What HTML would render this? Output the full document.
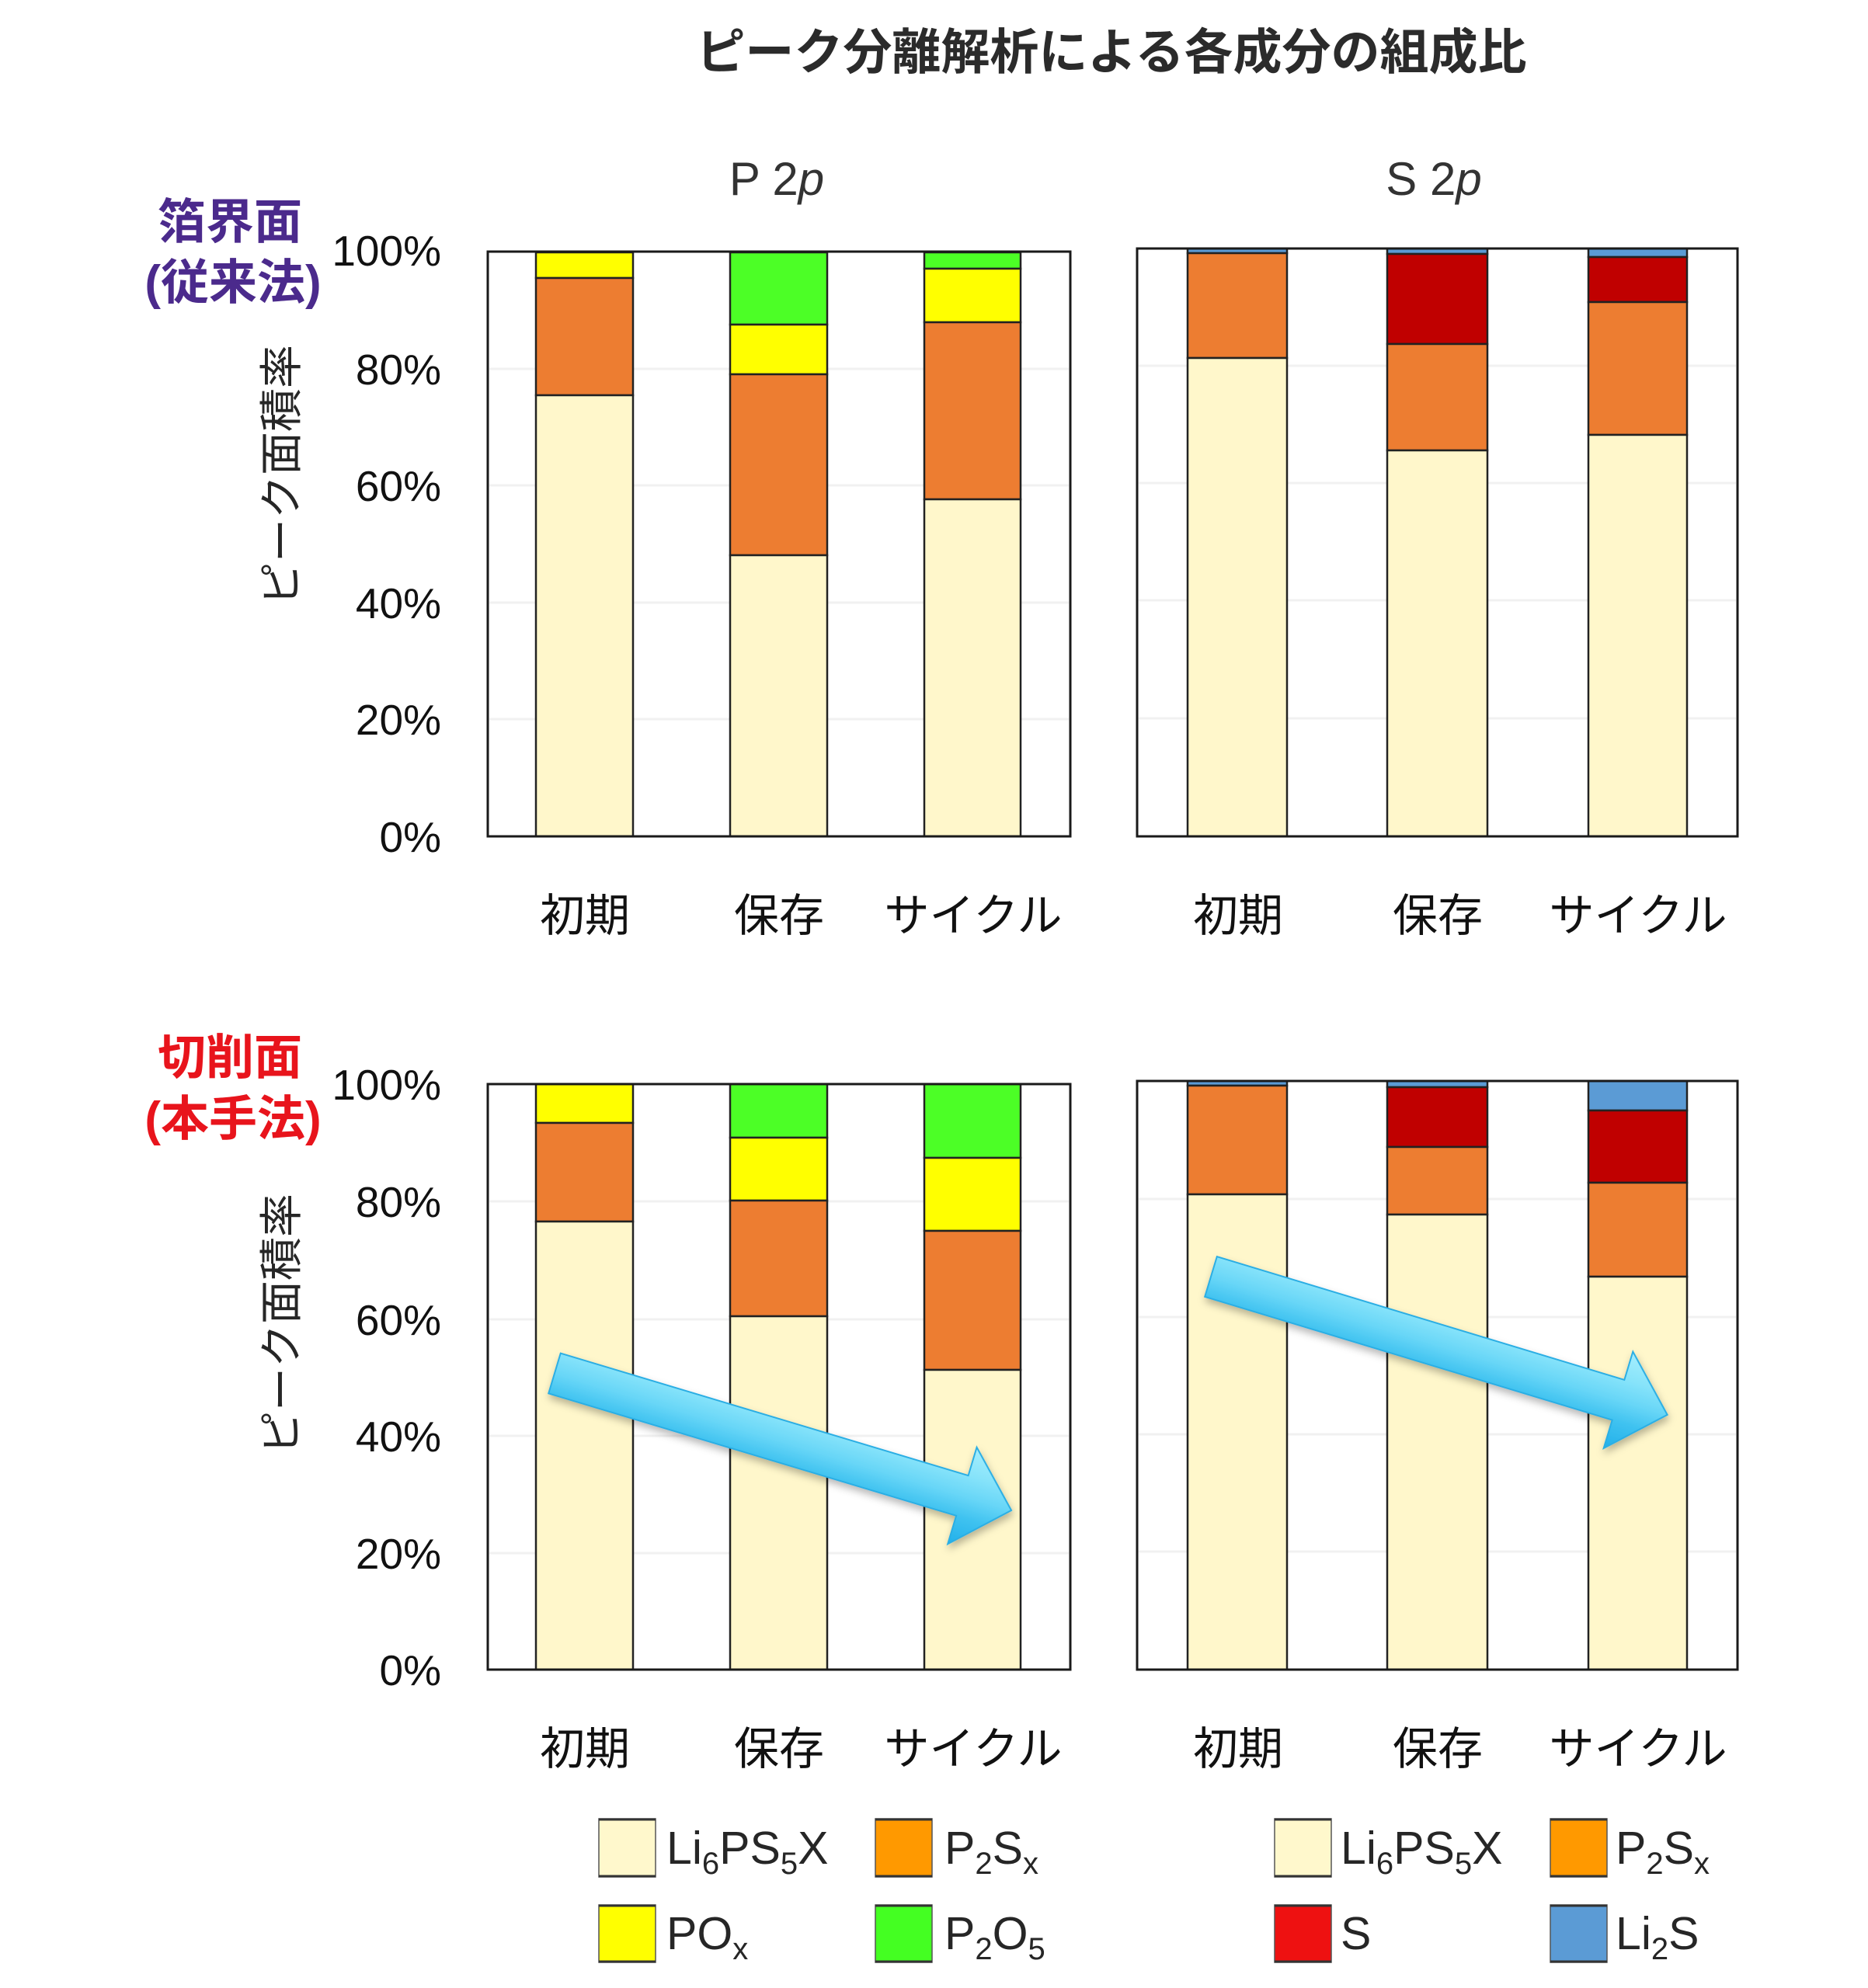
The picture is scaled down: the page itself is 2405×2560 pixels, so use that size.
<!DOCTYPE html>
<html>
<head>
<meta charset="utf-8">
<style>
html,body{margin:0;padding:0;background:#fff;}
svg{display:block;}
text{font-family:"Liberation Sans","Noto Sans CJK JP",sans-serif;}
</style>
</head>
<body>
<svg width="2405" height="2560" viewBox="0 0 2405 2560" xmlns="http://www.w3.org/2000/svg">
<defs>
  <linearGradient id="ag" gradientUnits="userSpaceOnUse" x1="0" y1="-65" x2="0" y2="65">
    <stop offset="0" stop-color="#a6eefd"/>
    <stop offset="0.29" stop-color="#86e3fa"/>
    <stop offset="0.5" stop-color="#68d6f7"/>
    <stop offset="0.71" stop-color="#3fc2f0"/>
    <stop offset="1" stop-color="#22b0ea"/>
  </linearGradient>
  <filter id="sh" x="-10%" y="-30%" width="120%" height="160%">
    <feDropShadow dx="3" dy="5" stdDeviation="5" flood-color="#000" flood-opacity="0.28"/>
  </filter>
</defs>

<!-- Title -->
<text x="1431" y="89" text-anchor="middle" font-size="63" font-weight="bold" fill="#2b2b2b">ピーク分離解析による各成分の組成比</text>

<!-- Panel titles -->
<text x="1000" y="251" text-anchor="middle" font-size="60" fill="#333">P 2<tspan font-style="italic">p</tspan></text>
<text x="1846" y="251" text-anchor="middle" font-size="60" fill="#333">S 2<tspan font-style="italic">p</tspan></text>

<!-- Left labels -->
<text x="296" y="307" text-anchor="middle" font-size="62" font-weight="bold" fill="#4b2a8c">箔界面</text>
<text x="300" y="385" text-anchor="middle" font-size="62" font-weight="bold" fill="#4b2a8c">(従来法)</text>
<text x="296" y="1383" text-anchor="middle" font-size="62" font-weight="bold" fill="#e8141c">切削面</text>
<text x="300" y="1462" text-anchor="middle" font-size="62" font-weight="bold" fill="#e8141c">(本手法)</text>

<!-- Y axis titles -->
<text transform="translate(362,612) rotate(-90)" y="20" text-anchor="middle" font-size="56" fill="#262626">ピーク面積率</text>
<text transform="translate(362,1705) rotate(-90)" y="20" text-anchor="middle" font-size="56" fill="#262626">ピーク面積率</text>

<!-- Y tick labels -->
<g font-size="55" fill="#111" text-anchor="end">
  <text x="568" y="342">100%</text>
  <text x="568" y="495">80%</text>
  <text x="568" y="645">60%</text>
  <text x="568" y="796">40%</text>
  <text x="568" y="946">20%</text>
  <text x="568" y="1097">0%</text>
  <text x="568" y="1416">100%</text>
  <text x="568" y="1567">80%</text>
  <text x="568" y="1719">60%</text>
  <text x="568" y="1869">40%</text>
  <text x="568" y="2020">20%</text>
  <text x="568" y="2170">0%</text>
</g>

<!-- Gridlines -->
<g stroke="#f1f1f1" stroke-width="3">
  <line x1="630" y1="475" x2="1376" y2="475"/>
  <line x1="630" y1="625" x2="1376" y2="625"/>
  <line x1="630" y1="776" x2="1376" y2="776"/>
  <line x1="630" y1="926" x2="1376" y2="926"/>
  <line x1="1466" y1="471" x2="2235" y2="471"/>
  <line x1="1466" y1="622" x2="2235" y2="622"/>
  <line x1="1466" y1="773" x2="2235" y2="773"/>
  <line x1="1466" y1="925" x2="2235" y2="925"/>
  <line x1="630" y1="1547" x2="1376" y2="1547"/>
  <line x1="630" y1="1699" x2="1376" y2="1699"/>
  <line x1="630" y1="1849" x2="1376" y2="1849"/>
  <line x1="630" y1="2000" x2="1376" y2="2000"/>
  <line x1="1466" y1="1544" x2="2235" y2="1544"/>
  <line x1="1466" y1="1696" x2="2235" y2="1696"/>
  <line x1="1466" y1="1847" x2="2235" y2="1847"/>
  <line x1="1466" y1="1998" x2="2235" y2="1998"/>
</g>

<!-- Bars -->
<g stroke="#222" stroke-width="2.5">
  <rect x="690" y="325" width="125" height="33" fill="#ffff00"/>
  <rect x="690" y="358" width="125" height="151" fill="#ed7d31"/>
  <rect x="690" y="509" width="125" height="568" fill="#fff7cb"/>

  <rect x="940" y="325" width="125" height="93" fill="#4cff26"/>
  <rect x="940" y="418" width="125" height="64" fill="#ffff00"/>
  <rect x="940" y="482" width="125" height="233" fill="#ed7d31"/>
  <rect x="940" y="715" width="125" height="362" fill="#fff7cb"/>

  <rect x="1190" y="325" width="124" height="21" fill="#4cff26"/>
  <rect x="1190" y="346" width="124" height="69" fill="#ffff00"/>
  <rect x="1190" y="415" width="124" height="228" fill="#ed7d31"/>
  <rect x="1190" y="643" width="124" height="434" fill="#fff7cb"/>

  <rect x="1529" y="320" width="128" height="6" fill="#5b9bd5"/>
  <rect x="1529" y="326" width="128" height="135" fill="#ed7d31"/>
  <rect x="1529" y="461" width="128" height="616" fill="#fff7cb"/>

  <rect x="1786" y="320" width="129" height="7" fill="#5b9bd5"/>
  <rect x="1786" y="327" width="129" height="116" fill="#c00000"/>
  <rect x="1786" y="443" width="129" height="137" fill="#ed7d31"/>
  <rect x="1786" y="580" width="129" height="497" fill="#fff7cb"/>

  <rect x="2045" y="320" width="127" height="11" fill="#5b9bd5"/>
  <rect x="2045" y="331" width="127" height="58" fill="#c00000"/>
  <rect x="2045" y="389" width="127" height="171" fill="#ed7d31"/>
  <rect x="2045" y="560" width="127" height="517" fill="#fff7cb"/>

  <rect x="690" y="1396" width="125" height="50" fill="#ffff00"/>
  <rect x="690" y="1446" width="125" height="127" fill="#ed7d31"/>
  <rect x="690" y="1573" width="125" height="577" fill="#fff7cb"/>

  <rect x="940" y="1396" width="125" height="69" fill="#4cff26"/>
  <rect x="940" y="1465" width="125" height="81" fill="#ffff00"/>
  <rect x="940" y="1546" width="125" height="149" fill="#ed7d31"/>
  <rect x="940" y="1695" width="125" height="455" fill="#fff7cb"/>

  <rect x="1190" y="1396" width="124" height="95" fill="#4cff26"/>
  <rect x="1190" y="1491" width="124" height="94" fill="#ffff00"/>
  <rect x="1190" y="1585" width="124" height="179" fill="#ed7d31"/>
  <rect x="1190" y="1764" width="124" height="386" fill="#fff7cb"/>

  <rect x="1529" y="1392" width="128" height="6" fill="#5b9bd5"/>
  <rect x="1529" y="1398" width="128" height="140" fill="#ed7d31"/>
  <rect x="1529" y="1538" width="128" height="612" fill="#fff7cb"/>

  <rect x="1786" y="1392" width="129" height="8" fill="#5b9bd5"/>
  <rect x="1786" y="1400" width="129" height="77" fill="#c00000"/>
  <rect x="1786" y="1477" width="129" height="87" fill="#ed7d31"/>
  <rect x="1786" y="1564" width="129" height="586" fill="#fff7cb"/>

  <rect x="2045" y="1392" width="127" height="38" fill="#5b9bd5"/>
  <rect x="2045" y="1430" width="127" height="93" fill="#c00000"/>
  <rect x="2045" y="1523" width="127" height="121" fill="#ed7d31"/>
  <rect x="2045" y="1644" width="127" height="506" fill="#fff7cb"/>
</g>

<!-- Frames -->
<g fill="none" stroke="#1a1a1a" stroke-width="3">
  <rect x="628" y="324" width="750" height="753"/>
  <rect x="1464" y="320" width="773" height="757"/>
  <rect x="628" y="1396" width="750" height="754"/>
  <rect x="1464" y="1392" width="773" height="758"/>
</g>

<!-- Arrows -->
<g transform="translate(714,1768.5) rotate(16.7)" filter="url(#sh)">
  <polygon points="0,-27 548,-27 548,-65 614,0 548,65 548,27 0,27" fill="url(#ag)" stroke="#2aaee4" stroke-width="2"/>
</g>
<g transform="translate(1559,1644) rotate(16.84)" filter="url(#sh)">
  <polygon points="0,-27 548,-27 548,-65 614,0 548,65 548,27 0,27" fill="url(#ag)" stroke="#2aaee4" stroke-width="2"/>
</g>

<!-- Category labels -->
<g font-size="58" fill="#111" text-anchor="middle">
  <text x="753" y="1199">初期</text>
  <text x="1003" y="1199">保存</text>
  <text x="1253" y="1199">サイクル</text>
  <text x="1594" y="1199">初期</text>
  <text x="1851" y="1199">保存</text>
  <text x="2109" y="1199">サイクル</text>
  <text x="753" y="2272">初期</text>
  <text x="1003" y="2272">保存</text>
  <text x="1253" y="2272">サイクル</text>
  <text x="1594" y="2272">初期</text>
  <text x="1851" y="2272">保存</text>
  <text x="2109" y="2272">サイクル</text>
</g>

<!-- Legend boxes -->
<g stroke="#555" stroke-width="1.5">
  <rect x="771" y="2342" width="73" height="75" fill="#fff8cc"/>
  <rect x="1127" y="2342" width="73" height="75" fill="#ff9900"/>
  <rect x="771" y="2453" width="73" height="74" fill="#ffff00"/>
  <rect x="1127" y="2453" width="73" height="74" fill="#44ff22"/>
  <rect x="1641" y="2342" width="73" height="75" fill="#fff8cc"/>
  <rect x="1996" y="2342" width="73" height="75" fill="#ff9900"/>
  <rect x="1641" y="2453" width="73" height="74" fill="#ee1111"/>
  <rect x="1996" y="2453" width="73" height="74" fill="#5b9bd5"/>
</g>
<g stroke="#333" stroke-width="3">
  <line x1="771" y1="2343" x2="844" y2="2343"/><line x1="771" y1="2416" x2="844" y2="2416"/>
  <line x1="1127" y1="2343" x2="1200" y2="2343"/><line x1="1127" y1="2416" x2="1200" y2="2416"/>
  <line x1="771" y1="2454" x2="844" y2="2454"/><line x1="771" y1="2526" x2="844" y2="2526"/>
  <line x1="1127" y1="2454" x2="1200" y2="2454"/><line x1="1127" y1="2526" x2="1200" y2="2526"/>
  <line x1="1641" y1="2343" x2="1714" y2="2343"/><line x1="1641" y1="2416" x2="1714" y2="2416"/>
  <line x1="1996" y1="2343" x2="2069" y2="2343"/><line x1="1996" y1="2416" x2="2069" y2="2416"/>
  <line x1="1641" y1="2454" x2="1714" y2="2454"/><line x1="1641" y1="2526" x2="1714" y2="2526"/>
  <line x1="1996" y1="2454" x2="2069" y2="2454"/><line x1="1996" y1="2526" x2="2069" y2="2526"/>
</g>

<!-- Legend text -->
<g font-size="59" fill="#262626">
  <text x="858" y="2400">Li<tspan font-size="40" dy="13">6</tspan><tspan dy="-13">PS</tspan><tspan font-size="40" dy="13">5</tspan><tspan dy="-13">X</tspan></text>
  <text x="1216" y="2400">P<tspan font-size="40" dy="13">2</tspan><tspan dy="-13">S</tspan><tspan font-size="40" dy="13">x</tspan></text>
  <text x="858" y="2510">PO<tspan font-size="40" dy="13">x</tspan></text>
  <text x="1216" y="2510">P<tspan font-size="40" dy="13">2</tspan><tspan dy="-13">O</tspan><tspan font-size="40" dy="13">5</tspan></text>
  <text x="1726" y="2400">Li<tspan font-size="40" dy="13">6</tspan><tspan dy="-13">PS</tspan><tspan font-size="40" dy="13">5</tspan><tspan dy="-13">X</tspan></text>
  <text x="2080" y="2400">P<tspan font-size="40" dy="13">2</tspan><tspan dy="-13">S</tspan><tspan font-size="40" dy="13">x</tspan></text>
  <text x="1726" y="2510">S</text>
  <text x="2080" y="2510">Li<tspan font-size="40" dy="13">2</tspan><tspan dy="-13">S</tspan></text>
</g>
</svg>
</body>
</html>
